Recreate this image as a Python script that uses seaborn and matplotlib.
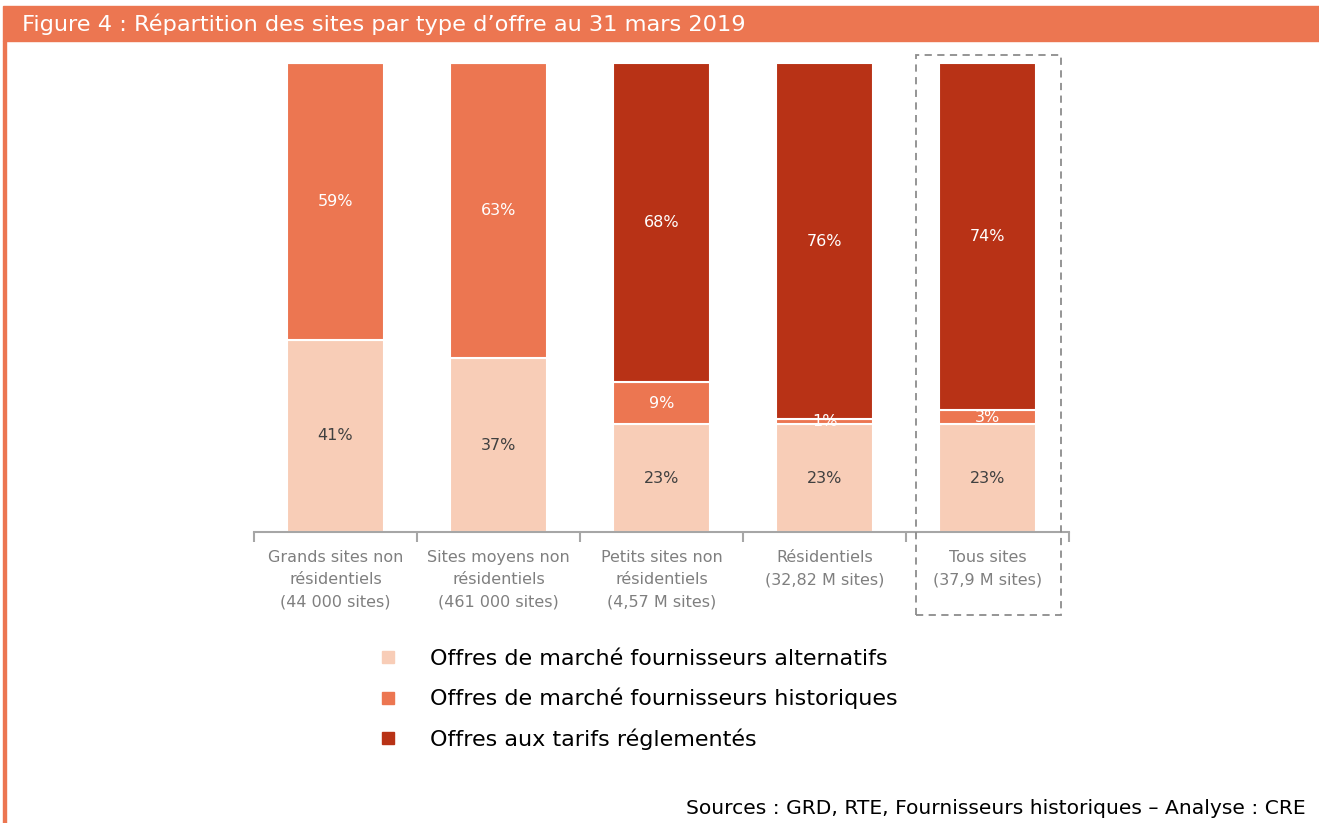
import numpy as np
import pandas as pd
import matplotlib.pyplot as plt
import matplotlib.patches as mpatches
from matplotlib.lines import Line2D
import seaborn as sns

sns.set_style('white')
plt.rcParams['font.family'] = ['DejaVu Sans']

# données
categories = ['Grands sites non\nrésidentiels\n(44 000 sites)',
              'Sites moyens non\nrésidentiels\n(461 000 sites)',
              'Petits sites non\nrésidentiels\n(4,57 M sites)',
              'Résidentiels\n(32,82 M sites)',
              'Tous sites\n(37,9 M sites)']
alternatifs = [41, 37, 23, 23, 23]
historiques = [59, 63, 9, 1, 3]
tarifs = [0, 0, 68, 76, 74]
series_names = ['Offres de marché fournisseurs alternatifs',
                'Offres de marché fournisseurs historiques',
                'Offres aux tarifs réglementés']
couleurs = ['#F8CDB7', '#EC7651', '#B83216']
label_couleurs = ['#404040', 'white', 'white']

df = pd.DataFrame({'cat': categories, 'alt': alternatifs, 'hist': historiques, 'tar': tarifs})

fig = plt.figure(figsize=(13.19, 8.23), dpi=100)
W, H = 1319, 823
ax = fig.add_axes([254 / W, 1 - 532 / H, (1069 - 254) / W, (532 - 63) / H])

bottoms = np.zeros(len(df))
for col, c, lc in zip(['alt', 'hist', 'tar'], couleurs, label_couleurs):
    sns.barplot(x='cat', y=col, data=df, bottom=bottoms, color=c, saturation=1, width=0.6,
                edgecolor='white', linewidth=1.5, ax=ax, errorbar=None)
    for i, v in enumerate(df[col]):
        if v > 0:
            ax.text(i, bottoms[i] + v / 2, f'{v}%', ha='center', va='center',
                    fontsize=11.5, color=lc)
    bottoms = bottoms + df[col].values

ax.set_xlim(-0.5, 4.5)
ax.set_ylim(0, 100)
ax.set_xlabel('')
ax.set_ylabel('')
ax.set_yticks([])
for s in ['top', 'right', 'left']:
    ax.spines[s].set_visible(False)
ax.spines['bottom'].set_color('#A6A6A6')
ax.spines['bottom'].set_linewidth(1.5)
ax.set_xticks(range(5))
ax.set_xticklabels(categories, fontsize=11.5, color='#7F7F7F', linespacing=1.6)
ax.set_xticks(np.arange(-0.5, 5, 1), minor=True)
ax.tick_params(axis='x', which='major', length=0, pad=13)
ax.tick_params(axis='x', which='minor', bottom=True, length=7, width=1.5,
               color='#A6A6A6', direction='out')

# cadre pointillé autour de "Tous sites"
fig.patches.append(mpatches.Rectangle((916 / W, 1 - 615 / H), 145 / W, 560 / H,
                                      transform=fig.transFigure, fill=False,
                                      edgecolor='#8C8C8C', linestyle=(0, (4, 3)), linewidth=1.3))

# légende
handles = [Line2D([], [], marker='s', linestyle='', color=c, markersize=9) for c in couleurs]
fig.legend(handles, series_names, loc='upper left', bbox_to_anchor=(346 / W, 1 - 629 / H),
           frameon=False, fontsize=16, labelspacing=0.85, handletextpad=0.9,
           labelcolor='black')

# bandeau titre
fig.patches.append(mpatches.Rectangle((3 / W, 1 - 41 / H), 1 - 3 / W, 35 / H,
                                      transform=fig.transFigure, color='#EC7651'))
fig.patches.append(mpatches.Rectangle((3 / W, 0), 3 / W, 1 - 41 / H,
                                      transform=fig.transFigure, color='#EC7651'))
fig.text(22 / W, 1 - 24 / H, 'Figure 4 : Répartition des sites par type d’offre au 31 mars 2019',
         color='white', fontsize=16.2, va='center', ha='left')
fig.text(1306 / W, 1 - 808 / H, 'Sources : GRD, RTE, Fournisseurs historiques – Analyse : CRE',
         color='black', fontsize=14.6, va='center', ha='right')

plt.savefig('out.png', dpi=100)
